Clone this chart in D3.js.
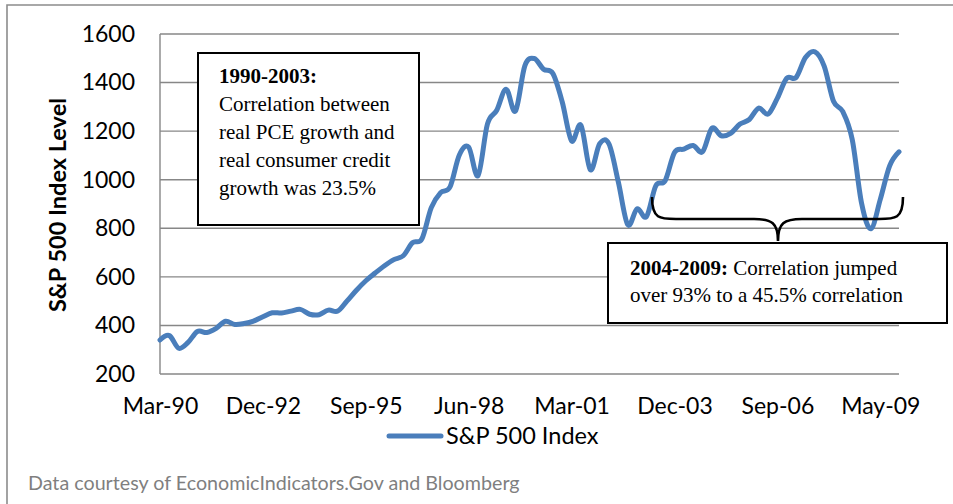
<!DOCTYPE html>
<html>
<head>
<meta charset="utf-8">
<script src="https://cdn.jsdelivr.net/npm/d3@7"></script>
<style>
  html, body { margin: 0; padding: 0; background: #fff; }
  svg { display: block; }
</style>
</head>
<body>
<svg id="chart" width="953" height="504"></svg>
<script>
// Quarter-end observations of the S&P 500 index
const categories = [
  "Mar-90","Jun-90","Sep-90","Dec-90","Mar-91","Jun-91","Sep-91","Dec-91",
  "Mar-92","Jun-92","Sep-92","Dec-92","Mar-93","Jun-93","Sep-93","Dec-93",
  "Mar-94","Jun-94","Sep-94","Dec-94","Mar-95","Jun-95","Sep-95","Dec-95",
  "Mar-96","Jun-96","Sep-96","Dec-96","Mar-97","Jun-97","Sep-97","Dec-97",
  "Mar-98","Jun-98","Sep-98","Dec-98","Mar-99","Jun-99","Sep-99","Dec-99",
  "Mar-00","Jun-00","Sep-00","Dec-00","Mar-01","Jun-01","Sep-01","Dec-01",
  "Mar-02","Jun-02","Sep-02","Dec-02","Mar-03","Jun-03","Sep-03","Dec-03",
  "Mar-04","Jun-04","Sep-04","Dec-04","Mar-05","Jun-05","Sep-05","Dec-05",
  "Mar-06","Jun-06","Sep-06","Dec-06","Mar-07","Jun-07","Sep-07","Dec-07",
  "Mar-08","Jun-08","Sep-08","Dec-08","Mar-09","May-09","Sep-09","Dec-09"
];

const sp500 = [
  340, 358, 306, 330, 375, 371, 388, 417,
  404, 408, 418, 436, 452, 451, 459, 466,
  446, 444, 463, 459, 501, 545, 584, 616,
  646, 671, 687, 741, 757, 885, 947, 970,
  1102, 1134, 1017, 1229, 1286, 1373, 1283, 1469,
  1499, 1455, 1437, 1320, 1160, 1224, 1041, 1148,
  1147, 990, 815, 880, 848, 975, 996, 1112,
  1126, 1141, 1115, 1212, 1181, 1191, 1229, 1248,
  1295, 1270, 1336, 1418, 1421, 1503, 1527, 1468,
  1323, 1280, 1166, 903, 798, 919, 1057, 1115
];

const yTicks = [200, 400, 600, 800, 1000, 1200, 1400, 1600];
const xTickLabels = ["Mar-90", "Dec-92", "Sep-95", "Jun-98", "Mar-01", "Dec-03", "Sep-06", "May-09"];

const seriesName = "S&P 500 Index";
const yTitle = "S&P 500 Index Level";
const source = "Data courtesy of EconomicIndicators.Gov and Bloomberg";

const note1Title = "1990-2003:";
const note1Lines = ["Correlation between", "real PCE growth and", "real consumer credit", "growth was 23.5%"];
const note2Title = "2004-2009:";
const note2Rest = " Correlation jumped";
const note2Line2 = "over 93% to a 45.5% correlation";

// ---- drawing ----
const svg = d3.select("#chart");
const sans = "Lato, 'Open Sans', sans-serif";
const serif = "'Liberation Serif', 'DejaVu Serif', serif";
const gridColor = "#878787";
const lineColor = "#4a7ebb";

const plot = { left: 160, right: 899, top: 34, bottom: 374 };

const x = d3.scalePoint().domain(categories).range([plot.left, plot.right]);
const y = d3.scaleLinear().domain([200, 1600]).range([plot.bottom, plot.top]);

// outer frame
svg.append("path")
  .attr("d", "M7,504 L7,5 L953,5")
  .attr("fill", "none")
  .attr("stroke", "#8c8c8c")
  .attr("stroke-width", 1.6);

// horizontal gridlines
svg.append("g")
  .selectAll("line")
  .data(yTicks)
  .join("line")
  .attr("x1", plot.left).attr("x2", plot.right)
  .attr("y1", d => y(d)).attr("y2", d => y(d))
  .attr("stroke", gridColor)
  .attr("stroke-width", 1.4);

// vertical axis line
svg.append("line")
  .attr("x1", plot.left).attr("x2", plot.left)
  .attr("y1", plot.top).attr("y2", plot.bottom)
  .attr("stroke", gridColor)
  .attr("stroke-width", 1.4);

// y axis labels
const yAxis = svg.append("g")
  .attr("transform", `translate(${plot.left - 25},0)`)
  .call(d3.axisLeft(y).tickValues(yTicks).tickSize(0).tickPadding(0).tickFormat(d3.format("d")));
yAxis.select(".domain").remove();
yAxis.selectAll("text")
  .attr("font-family", sans)
  .attr("font-size", 23)
  .attr("fill", "#000");

// x axis labels
const xAxis = svg.append("g")
  .attr("transform", `translate(0,${plot.bottom})`)
  .call(d3.axisBottom(x).tickValues(xTickLabels).tickSize(0).tickPadding(24));
xAxis.select(".domain").remove();
xAxis.selectAll("text")
  .attr("font-family", sans)
  .attr("font-size", 23)
  .attr("fill", "#000");

// y axis title
svg.append("text")
  .attr("transform", `translate(66,${(plot.top + plot.bottom) / 2 + 1}) rotate(-90)`)
  .attr("text-anchor", "middle")
  .attr("font-family", sans)
  .attr("font-weight", "bold")
  .attr("font-size", 23.5)
  .text(yTitle);

// the index line
const line = d3.line()
  .x((d, i) => x(categories[i]))
  .y(d => y(d))
  .curve(d3.curveCardinal.tension(0));

svg.append("path")
  .datum(sp500)
  .attr("d", line)
  .attr("fill", "none")
  .attr("stroke", lineColor)
  .attr("stroke-width", 5)
  .attr("stroke-linejoin", "round")
  .attr("stroke-linecap", "round");

// first note box
const box1 = svg.append("g");
box1.append("rect")
  .attr("x", 198).attr("y", 53).attr("width", 221).attr("height", 172)
  .attr("fill", "#fff").attr("stroke", "#000").attr("stroke-width", 2);
box1.append("text")
  .attr("x", 219).attr("y", 83)
  .attr("font-family", serif).attr("font-size", 21).attr("font-weight", "bold")
  .text(note1Title);
box1.selectAll("text.body")
  .data(note1Lines)
  .join("text")
  .attr("class", "body")
  .attr("x", 219)
  .attr("y", (d, i) => 111 + i * 28)
  .attr("font-family", serif).attr("font-size", 21)
  .text(d => d);

// curly brace spanning 2004-2009
const bx0 = 652, bx1 = 903, bmid = 778, btop = 197, bflat = 219, btip = 241;
svg.append("path")
  .attr("d",
    `M${bx0},${btop} C${bx0},${bflat} ${bx0 + 8},${bflat} ${bx0 + 24},${bflat}` +
    ` L${bmid - 24},${bflat} C${bmid - 6},${bflat} ${bmid},${bflat + 4} ${bmid},${btip}` +
    ` M${bmid},${btip} C${bmid},${bflat + 4} ${bmid + 6},${bflat} ${bmid + 24},${bflat}` +
    ` L${bx1 - 24},${bflat} C${bx1 - 8},${bflat} ${bx1},${bflat} ${bx1},${btop}`)
  .attr("fill", "none")
  .attr("stroke", "#000")
  .attr("stroke-width", 2.6);

// second note box
const box2 = svg.append("g");
box2.append("rect")
  .attr("x", 608).attr("y", 243).attr("width", 339).attr("height", 80)
  .attr("fill", "#fff").attr("stroke", "#000").attr("stroke-width", 2);
const t2 = box2.append("text")
  .attr("x", 630).attr("y", 275)
  .attr("font-family", serif).attr("font-size", 21);
t2.append("tspan").attr("font-weight", "bold").text(note2Title);
t2.append("tspan").style("white-space", "pre").text(note2Rest);
box2.append("text")
  .attr("x", 630).attr("y", 302)
  .attr("font-family", serif).attr("font-size", 21)
  .style("white-space", "pre")
  .text(note2Line2);

// legend
const legend = svg.append("g");
legend.append("line")
  .attr("x1", 389).attr("x2", 441).attr("y1", 436).attr("y2", 436)
  .attr("stroke", lineColor).attr("stroke-width", 5).attr("stroke-linecap", "round");
legend.append("text")
  .attr("x", 446).attr("y", 444)
  .attr("font-family", sans).attr("font-size", 23.5)
  .text(seriesName);

// source note
svg.append("text")
  .attr("x", 28).attr("y", 490)
  .attr("font-family", sans).attr("font-size", 19.7)
  .attr("fill", "#7f7f7f")
  .text(source);
</script>
</body>
</html>
